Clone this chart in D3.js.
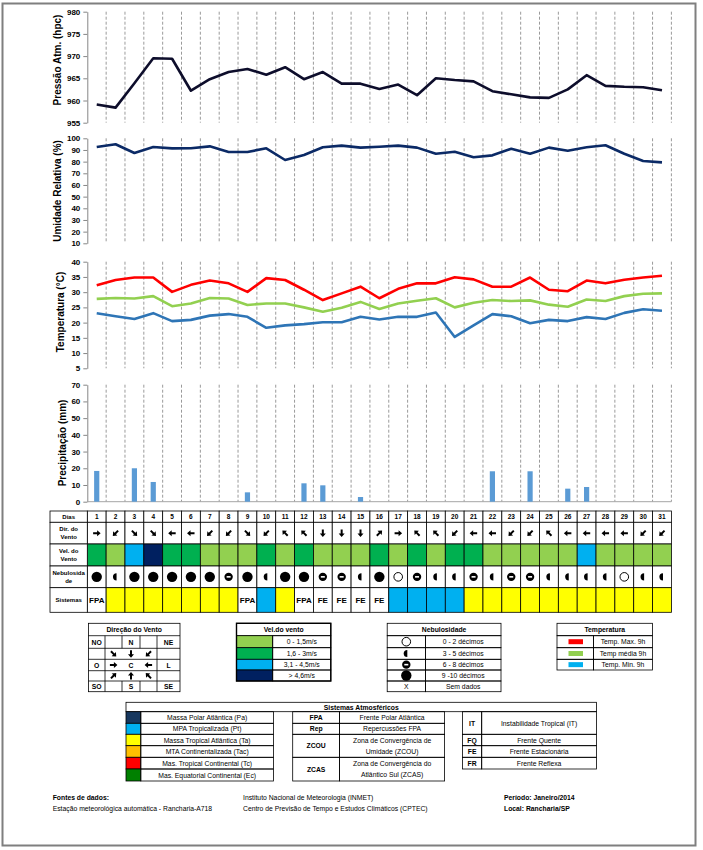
<!DOCTYPE html>
<html>
<head>
<meta charset="utf-8">
<script src="https://cdn.jsdelivr.net/npm/d3@7"></script>
<style>
body { margin: 0; background: #fff; }
text { font-family: "Liberation Sans", Arial, sans-serif; fill: #000; }
</style>
</head>
<body>
<div id="chart"></div>
<script>
// daily values, January 2014, Rancharia/SP
var days = d3.range(1, 32);
var pressure = [959.1, 958.4, 963.9, 969.5, 969.4, 962.2, 964.8, 966.4, 967.1, 965.8, 967.5, 964.8, 966.4, 963.8, 963.8, 962.6,
  963.6, 961.2, 965.0, 964.6, 964.3, 962.1, 961.4, 960.7, 960.6, 962.5, 965.7, 963.3, 963.1, 963.0, 962.3];
var humidity = [92.5, 94.9, 87.4, 92.5, 91.4, 91.5, 93.1, 88.3, 88.3, 91.4, 81.4, 85.7, 92.3, 93.7, 92.0, 92.8,
  93.7, 92.0, 86.8, 88.5, 83.7, 85.4, 91.1, 86.8, 92.0, 89.4, 92.3, 94.0, 86.8, 80.5, 79.4];
var tempMax = [32.3, 34.0, 34.8, 34.8, 30.1, 32.4, 33.8, 32.9, 30.1, 34.6, 34.0, 30.8, 27.4, 29.6, 31.8, 28.0,
  31.1, 32.9, 32.9, 34.9, 34.2, 31.8, 31.8, 34.8, 30.8, 30.3, 33.8, 32.9, 34.1, 34.8, 35.4];
var tempMed = [27.8, 28.1, 27.9, 28.7, 25.4, 26.3, 28.1, 27.9, 25.8, 26.3, 26.3, 25.0, 23.6, 24.9, 26.8, 24.5,
  26.3, 27.2, 28.0, 25.0, 26.5, 27.4, 27.1, 27.3, 25.9, 25.2, 27.6, 27.1, 28.7, 29.5, 29.6];
var tempMin = [23.1, 22.1, 21.2, 23.1, 20.5, 20.9, 22.3, 22.8, 21.9, 18.3, 19.1, 19.5, 20.1, 20.1, 21.9, 21.0,
  21.9, 21.9, 23.3, 15.3, 19.1, 22.8, 22.1, 19.8, 20.9, 20.5, 21.8, 21.2, 23.2, 24.4, 23.9];
var precip = [18.4, 0, 20, 11.8, 0, 0, 0, 0, 5.6, 0, 0, 11, 9.8, 0, 2.8, 0,
  0, 0, 0, 0, 0, 18.2, 0, 18.2, 0, 7.8, 8.8, 0, 0, 0, 0];
// wind comes FROM this direction (O = oeste, L = leste)
var windDir = ["O", "NE", "NO", "NO", "L", "L", "NE", "NE", "NO", "NE", "SE", "SE", "N", "N", "N", "SO",
  "O", "SE", "SE", "NE", "L", "L", "NE", "NE", "SE", "L", "L", "L", "L", "NE", "NE"];
// 1: 0-1,5  2: 1,6-3  3: 3,1-4,5  4: >4,6 m/s
var windSpeed = [2, 1, 3, 4, 2, 2, 1, 1, 1, 2, 1, 2, 1, 1, 1, 2, 1, 2, 1, 2, 2, 1, 1, 1, 1, 1, 3, 1, 1, 1, 1];
// 1: 0-2  2: 3-5  3: 6-8  4: 9-10 decimos
var cloud = [4, 2, 4, 4, 4, 4, 4, 3, 4, 2, 4, 4, 3, 3, 2, 4, 1, 3, 2, 2, 3, 2, 3, 3, 2, 2, 2, 2, 1, 2, 2];
var systems = ["FPA", "Ta", "Ta", "Ta", "Ta", "Ta", "Ta", "Ta", "FPA", "Pt", "Ta", "FPA", "FE", "FE", "FE", "FE",
  "Pt", "Pt", "Pt", "Pt", "Ta", "Ta", "Ta", "Ta", "Ta", "Ta", "Ta", "Ta", "Ta", "Ta", "Ta"];

var speedLabels = ["0 - 1,5m/s", "1,6 - 3m/s", "3,1 - 4,5m/s", "> 4,6m/s"];
var cloudLabels = ["0 - 2 décimos", "3 - 5 décimos", "6 - 8 décimos", "9 -10 décimos"];
var tempLabels = ["Temp. Max. 9h", "Temp média 9h", "Temp. Min. 9h"];
var massLabels = ["Massa Polar Atlântica (Pa)", "MPA Tropicalizada (Pt)", "Massa Tropical Atlântica (Ta)",
  "MTA Continentalizada (Tac)", "Mas. Tropical Continental (Tc)", "Mas. Equatorial Continental (Ec)"];

var speedColor = ["#92d050", "#00b050", "#00b0f0", "#002060"];
var systemColor = { Ta: "#ffff00", Pt: "#00b0f0" };
var massColor = ["#17375e", "#00b0f0", "#ffff00", "#ffc000", "#ff0000", "#008000"];
var dirAngle = { O: 0, NO: 45, N: 90, NE: 135, L: 180, SE: 225, S: 270, SO: 315 };

var svg = d3.select("#chart").append("svg")
  .attr("width", 703)
  .attr("height", 850);

svg.append("rect")
  .attr("x", 2.5).attr("y", 3.5).attr("width", 693).attr("height", 842)
  .attr("fill", "#fff").attr("stroke", "#7f7f7f").attr("stroke-width", 2);

var x = d3.scaleBand().domain(days).range([87.3, 671.4]);
var bw = x.bandwidth();
var cx = d => x(d) + bw / 2;

// one chart panel: axis, dashed grid, title
function panel(domain, range, ticks, title, ty, tx) {
  var y = d3.scaleLinear().domain(domain).range(range);
  var g = svg.append("g");
  g.selectAll(".grid")
    .data(days)
    .enter()
    .append("line")
    .attr("x1", d => x(d) + bw).attr("x2", d => x(d) + bw)
    .attr("y1", range[1]).attr("y2", range[0])
    .attr("stroke", "#808080")
    .attr("stroke-width", 0.8)
    .attr("stroke-dasharray", "3,2");
  var ax = g.append("g")
    .attr("transform", "translate(87.3,0)")
    .call(d3.axisLeft(y).tickValues(ticks).tickSize(4).tickSizeOuter(0).tickPadding(3));
  ax.select(".domain").attr("stroke", "#868686");
  ax.selectAll(".tick line").attr("stroke", "#868686");
  ax.selectAll(".tick text").attr("font-size", 8).attr("font-weight", "bold").attr("fill", "#000");
  g.append("text")
    .attr("transform", `translate(${tx},${ty}) rotate(-90)`)
    .attr("text-anchor", "middle")
    .attr("dominant-baseline", "central")
    .attr("font-size", 10)
    .attr("font-weight", "bold")
    .text(title);
  return y;
}

function drawLine(y, values, color, width) {
  svg.append("path")
    .datum(values)
    .attr("fill", "none")
    .attr("stroke", color)
    .attr("stroke-width", width)
    .attr("stroke-linejoin", "round")
    .attr("d", d3.line().x((d, i) => cx(days[i])).y(d => y(d)));
}

var yP = panel([955, 980], [122.7, 11.7], d3.range(955, 981, 5), "Pressão  Atm. (hpc)", 60, 57.5);
drawLine(yP, pressure, "#0d0d2b", 2.6);

var yH = panel([10, 100], [243.3, 138.3], d3.range(10, 101, 10), "Umidade Relativa (%)", 191, 57.5);
drawLine(yH, humidity, "#0b2a66", 2.6);

var yT = panel([5, 40], [368.3, 261.7], d3.range(5, 41, 5), "Temperatura (°C)", 312, 60);
drawLine(yT, tempMax, "#ff0000", 2.6);
drawLine(yT, tempMed, "#92d050", 2.6);
drawLine(yT, tempMin, "#2e75b6", 2.6);

var yR = panel([0, 70], [501.7, 384.7], d3.range(0, 71, 10), "Precipitação  (mm)", 443, 62);
svg.append("line")
  .attr("x1", 87.3).attr("x2", 671.4).attr("y1", 501.7).attr("y2", 501.7)
  .attr("stroke", "#a6a6a6").attr("stroke-width", 1);
svg.selectAll(".bar")
  .data(precip)
  .enter()
  .append("rect")
  .attr("x", (d, i) => cx(days[i]) - 2.6)
  .attr("width", 5.2)
  .attr("y", d => yR(d))
  .attr("height", d => yR(0) - yR(d))
  .attr("fill", "#5b9bd5");

// ---- daily table ----
var rowY = [511, 522.3, 544, 566, 587.7, 612.3];
var labX0 = 50;
var rowLabels = [["Dias"], ["Dir. do", "Vento"], ["Vel. do", "Vento"], ["Nebulosida", "de"], ["Sistemas"]];

var tbl = svg.append("g");
days.forEach(function(d, i) {
  var fills = ["#fff", "#fff", speedColor[windSpeed[i] - 1], "#fff", systemColor[systems[i]] || "#fff"];
  fills.forEach(function(f, r) {
    tbl.append("rect")
      .attr("x", x(d)).attr("y", rowY[r])
      .attr("width", bw).attr("height", rowY[r + 1] - rowY[r])
      .attr("fill", f).attr("stroke", "#000").attr("stroke-width", 0.8);
  });
});
rowLabels.forEach(function(lines, r) {
  tbl.append("rect")
    .attr("x", labX0).attr("y", rowY[r])
    .attr("width", 87.3 - labX0).attr("height", rowY[r + 1] - rowY[r])
    .attr("fill", "#fff").attr("stroke", "#000").attr("stroke-width", 0.8);
  var mid = (rowY[r] + rowY[r + 1]) / 2;
  lines.forEach(function(t, k) {
    tbl.append("text")
      .attr("x", (labX0 + 87.3) / 2)
      .attr("y", mid + (k - (lines.length - 1) / 2) * 7.5)
      .attr("dominant-baseline", "central")
      .attr("text-anchor", "middle")
      .attr("font-size", 6).attr("font-weight", "bold")
      .text(t);
  });
});

tbl.selectAll(".day")
  .data(days)
  .enter()
  .append("text")
  .attr("x", d => cx(d))
  .attr("y", (rowY[0] + rowY[1]) / 2)
  .attr("dominant-baseline", "central")
  .attr("text-anchor", "middle")
  .attr("font-size", 6.5).attr("font-weight", "bold")
  .text(d => d);

var arrowPath = "M-3.6,-1 L0.4,-1 L0.4,-3 L3.9,0 L0.4,3 L0.4,1 L-3.6,1 Z";
function arrow(g, px, py, dir) {
  g.append("path")
    .attr("d", arrowPath)
    .attr("transform", `translate(${px},${py}) rotate(${dirAngle[dir]})`)
    .attr("fill", "#000");
}
days.forEach((d, i) => arrow(tbl, cx(d), (rowY[1] + rowY[2]) / 2, windDir[i]));

function cloudMark(g, px, py, code) {
  if (code === 1) {
    g.append("circle").attr("cx", px).attr("cy", py).attr("r", 4.3)
      .attr("fill", "#fff").attr("stroke", "#000").attr("stroke-width", 1);
  } else if (code === 2) {
    g.append("path")
      .attr("d", `M${px + 1},${py - 3.6} A3.6,3.6 0 0 0 ${px + 1},${py + 3.6} Z`)
      .attr("fill", "#000");
  } else if (code === 3) {
    g.append("circle").attr("cx", px).attr("cy", py).attr("r", 4.2).attr("fill", "#000");
    g.append("rect").attr("x", px - 2).attr("y", py - 0.8).attr("width", 4).attr("height", 1.6).attr("fill", "#fff");
  } else {
    g.append("circle").attr("cx", px).attr("cy", py).attr("r", 5.2).attr("fill", "#000");
  }
}
days.forEach((d, i) => cloudMark(tbl, cx(d), (rowY[3] + rowY[4]) / 2, cloud[i]));

systems.forEach(function(s, i) {
  if (systemColor[s]) return;
  tbl.append("text")
    .attr("x", cx(days[i])).attr("y", (rowY[4] + rowY[5]) / 2)
    .attr("dominant-baseline", "central")
    .attr("text-anchor", "middle")
    .attr("font-size", 8).attr("font-weight", "bold")
    .text(s);
});

// ---- legends ----
var leg = svg.append("g");
function cell(x0, y0, w, h, fill) {
  leg.append("rect").attr("x", x0).attr("y", y0).attr("width", w).attr("height", h)
    .attr("fill", fill || "none").attr("stroke", "#000").attr("stroke-width", 0.8);
}
function label(t, px, py, bold, size) {
  leg.append("text")
    .attr("x", px).attr("y", py)
    .attr("dominant-baseline", "central")
    .attr("text-anchor", "middle")
    .attr("font-size", size || 6.8)
    .attr("font-weight", bold ? "bold" : "normal")
    .text(t);
}

// Direção do Vento
var dX = [88.4, 105, 122, 140, 157, 180];
var dY = [623.3, 635.7, 648.3, 659.3, 670.7, 681, 691.7];
cell(dX[0], dY[0], dX[5] - dX[0], dY[6] - dY[0]);
label("Direção do Vento", (dX[0] + dX[5]) / 2, (dY[0] + dY[1]) / 2, true);
for (var r = 1; r < 6; r++) {
  leg.append("line").attr("x1", dX[0]).attr("x2", dX[5]).attr("y1", dY[r]).attr("y2", dY[r]).attr("stroke", "#000").attr("stroke-width", 0.8);
}
[1, 4].forEach(c => leg.append("line").attr("x1", dX[c]).attr("x2", dX[c]).attr("y1", dY[1]).attr("y2", dY[6]).attr("stroke", "#000").attr("stroke-width", 0.8));
[2, 3].forEach(function(c) {
  [[1, 2], [5, 6]].forEach(p => leg.append("line").attr("x1", dX[c]).attr("x2", dX[c]).attr("y1", dY[p[0]]).attr("y2", dY[p[1]]).attr("stroke", "#000").attr("stroke-width", 0.8));
});
var dcx = c => (dX[c] + dX[c + 1]) / 2;
var dcy = r => (dY[r] + dY[r + 1]) / 2;
var compass = [["NO", "", "N", "", "NE"], ["", "NO", "N", "NE", ""], ["O", "O", "C", "L", "L"], ["", "SO", "S", "SE", ""], ["SO", "", "S", "", "SE"]];
compass.forEach(function(row, r) {
  row.forEach(function(t, c) {
    if (!t) return;
    if ((r === 1 || r === 3 || (r === 2 && (c === 1 || c === 3)))) arrow(leg, dcx(c), dcy(r + 1), t);
    else label(t, dcx(c), dcy(r + 1), true);
  });
});

// Vel. do vento
var vX = [236.5, 272.7, 330.8];
var vY = [623.3, 635.7, 647.7, 659.3, 670, 681];
cell(vX[0], vY[0], vX[2] - vX[0], vY[1] - vY[0]);
label("Vel.do vento", (vX[0] + vX[2]) / 2, (vY[0] + vY[1]) / 2, true);
speedLabels.forEach(function(t, i) {
  cell(vX[0], vY[i + 1], vX[1] - vX[0], vY[i + 2] - vY[i + 1], speedColor[i]);
  cell(vX[1], vY[i + 1], vX[2] - vX[1], vY[i + 2] - vY[i + 1]);
  label(t, (vX[1] + vX[2]) / 2, (vY[i + 1] + vY[i + 2]) / 2);
});
leg.append("rect").attr("x", vX[0]).attr("y", vY[0]).attr("width", vX[2] - vX[0]).attr("height", vY[5] - vY[0])
  .attr("fill", "none").attr("stroke", "#000").attr("stroke-width", 1.4);

// Nebulosidade
var nX = [387.2, 425.4, 501];
var nY = [623.3, 635.7, 647.7, 659.3, 670, 681, 691.7];
cell(nX[0], nY[0], nX[2] - nX[0], nY[1] - nY[0]);
label("Nebulosidade", (nX[0] + nX[2]) / 2, (nY[0] + nY[1]) / 2, true);
cloudLabels.concat(["Sem dados"]).forEach(function(t, i) {
  cell(nX[0], nY[i + 1], nX[1] - nX[0], nY[i + 2] - nY[i + 1]);
  cell(nX[1], nY[i + 1], nX[2] - nX[1], nY[i + 2] - nY[i + 1]);
  label(t, (nX[1] + nX[2]) / 2, (nY[i + 1] + nY[i + 2]) / 2);
  if (i < 4) cloudMark(leg, (nX[0] + nX[1]) / 2, (nY[i + 1] + nY[i + 2]) / 2, i + 1);
  else label("X", (nX[0] + nX[1]) / 2, (nY[i + 1] + nY[i + 2]) / 2);
});

// Temperatura
var tX = [557, 593.4, 652.5];
var tY = [623.3, 635.7, 647.7, 659.3, 670];
var tempColor = ["#ff0000", "#92d050", "#00b0f0"];
cell(tX[0], tY[0], tX[2] - tX[0], tY[1] - tY[0]);
label("Temperatura", (tX[0] + tX[2]) / 2, (tY[0] + tY[1]) / 2, true);
tempLabels.forEach(function(t, i) {
  cell(tX[0], tY[i + 1], tX[1] - tX[0], tY[i + 2] - tY[i + 1]);
  cell(tX[1], tY[i + 1], tX[2] - tX[1], tY[i + 2] - tY[i + 1]);
  leg.append("rect").attr("x", 568.5).attr("y", (tY[i + 1] + tY[i + 2]) / 2 - 2.5).attr("width", 14.5).attr("height", 5).attr("fill", tempColor[i]);
  label(t, (tX[1] + tX[2]) / 2, (tY[i + 1] + tY[i + 2]) / 2);
});

// Sistemas Atmosféricos
var sY = [702.3, 711.7, 723.3, 734.3, 745.7, 757.3, 769, 781];
cell(126, sY[0], 596.5 - 126, sY[1] - sY[0]);
label("Sistemas Atmosféricos", (126 + 596.5) / 2, (sY[0] + sY[1]) / 2, true);
massLabels.forEach(function(t, i) {
  cell(126, sY[i + 1], 140.8 - 126, sY[i + 2] - sY[i + 1], massColor[i]);
  cell(140.8, sY[i + 1], 273.5 - 140.8, sY[i + 2] - sY[i + 1]);
  label(t, (140.8 + 273.5) / 2, (sY[i + 1] + sY[i + 2]) / 2);
});
var fronts = [["FPA", ["Frente Polar Atlântica"], 1, 2], ["Rep", ["Repercussões FPA"], 2, 3],
  ["ZCOU", ["Zona de Convergência de", "Umidade (ZCOU)"], 3, 5], ["ZCAS", ["Zona de Convergência do", "Atlântico Sul (ZCAS)"], 5, 7]];
fronts.forEach(function(f) {
  var y0 = sY[f[2]], y1 = sY[f[3]];
  cell(292.7, y0, 339.6 - 292.7, y1 - y0);
  cell(339.6, y0, 444.6 - 339.6, y1 - y0);
  label(f[0], (292.7 + 339.6) / 2, (y0 + y1) / 2, true);
  f[1].forEach((t, k) => label(t, (339.6 + 444.6) / 2, (y0 + y1) / 2 + (k - (f[1].length - 1) / 2) * 11.5));
});
var others = [["IT", "Instabilidade Tropical (IT)", 1, 3], ["FQ", "Frente Quente", 3, 4],
  ["FE", "Frente Estacionária", 4, 5], ["FR", "Frente Reflexa", 5, 6]];
others.forEach(function(f) {
  var y0 = sY[f[2]], y1 = sY[f[3]];
  cell(462.5, y0, 481.7 - 462.5, y1 - y0);
  cell(481.7, y0, 596.5 - 481.7, y1 - y0);
  label(f[0], (462.5 + 481.7) / 2, (y0 + y1) / 2, true);
  label(f[1], (481.7 + 596.5) / 2, (y0 + y1) / 2);
});

// footer
var foot = [["Fontes de dados:", 52.7, 797.7, true], ["Estação meteorológica automática - Rancharia-A718", 52.7, 808.3, false],
  ["Instituto Nacional de Meteorologia (INMET)", 243, 797.7, false], ["Centro de Previsão de Tempo e Estudos Climáticos (CPTEC)", 243, 808.3, false],
  ["Período: Janeiro/2014", 504, 797.7, true], ["Local: Rancharia/SP", 504, 808.3, true]];
foot.forEach(function(f) {
  leg.append("text")
    .attr("x", f[1]).attr("y", f[2])
    .attr("dominant-baseline", "central")
    .attr("font-size", 6.8)
    .attr("font-weight", f[3] ? "bold" : "normal")
    .text(f[0]);
});
</script>
</body>
</html>
